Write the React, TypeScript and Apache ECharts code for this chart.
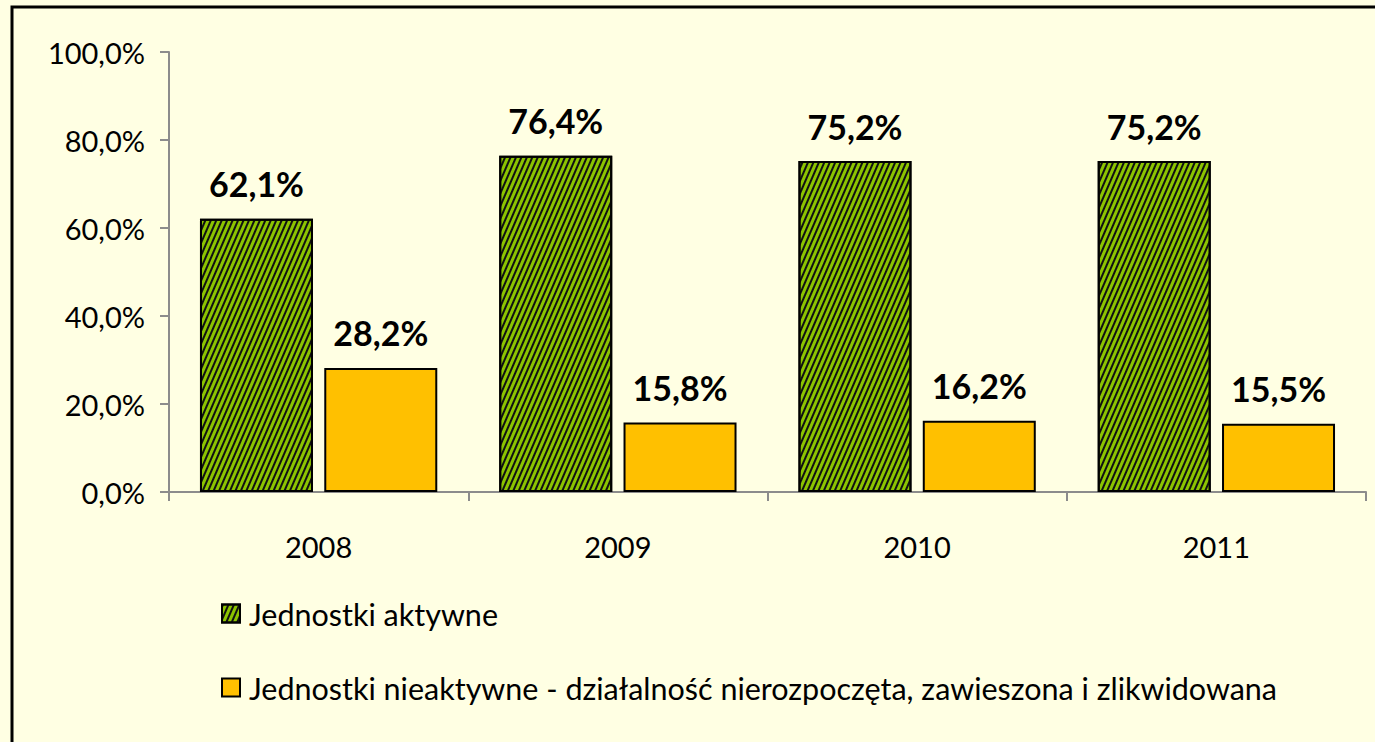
import React, { useEffect, useRef } from "react";
import * as echarts from "echarts";

const categories = ["2008", "2009", "2010", "2011"];
const activeValues = [62.1, 76.4, 75.2, 75.2];
const inactiveValues = [28.2, 15.8, 16.2, 15.5];
const seriesNames = [
  "Jednostki aktywne",
  "Jednostki nieaktywne - działalność nierozpoczęta, zawieszona i zlikwidowana",
];
const yTicks = [0, 20, 40, 60, 80, 100];

const fmt = (v: number) => v.toFixed(1).replace(".", ",") + "%";
const FONT = "Lato, 'Open Sans', sans-serif";

export default function App() {
  const ref = useRef<HTMLDivElement>(null);
  useEffect(() => {
    if (!ref.current) return;
    const chart = echarts.init(ref.current, null, { renderer: "svg" });
    const label = {
      show: true,
      position: "top" as const,
      distance: 18,
      fontSize: 34,
      fontWeight: "bold" as const,
      color: "#000",
      fontFamily: FONT,
      formatter: (p: any) => fmt(p.value),
    };
    chart.setOption({
      animation: false,
      backgroundColor: "#FFFFE3",
      textStyle: { fontFamily: FONT },
      graphic: [
        {
          type: "rect",
          shape: { x: 12, y: 7, width: 1500, height: 900 },
          style: { fill: "none", stroke: "#000", lineWidth: 3 },
          silent: true,
        },
      ],
      grid: { left: 169, right: 9, top: 52, bottom: 250, containLabel: false },
      xAxis: {
        type: "category",
        data: categories,
        axisLine: { lineStyle: { color: "#8C8C8C", width: 2 } },
        axisTick: { show: true, length: 9, lineStyle: { color: "#8C8C8C", width: 2 } },
        axisLabel: { color: "#000", fontSize: 29, margin: 40, fontFamily: FONT },
      },
      yAxis: {
        type: "value",
        min: 0,
        max: 100,
        interval: 20,
        splitLine: { show: false },
        axisLine: { show: true, lineStyle: { color: "#8C8C8C", width: 2 } },
        axisTick: { show: true, length: 9, lineStyle: { color: "#8C8C8C", width: 2 } },
        axisLabel: {
          color: "#000",
          fontSize: 29,
          margin: 24,
          fontFamily: FONT,
          formatter: (v: number) => (yTicks.includes(v) ? fmt(v) : ""),
        },
      },
      legend: {
        orient: "vertical",
        left: 216,
        top: 593,
        itemGap: 43,
        itemWidth: 18,
        itemHeight: 18,
        icon: "rect",
        textStyle: { fontSize: 30.5, color: "#000", fontFamily: FONT, padding: [0, 0, 0, 4] },
        data: seriesNames,
      },
      series: [
        {
          name: seriesNames[0],
          type: "bar",
          data: activeValues,
          barWidth: 113,
          barGap: "10%",
          itemStyle: {
            color: "#8CC400",
            borderColor: "#000",
            borderWidth: 2,
            decal: {
              symbol: "rect",
              color: "#111",
              dashArrayX: [1, 0],
              dashArrayY: [2, 2.5],
              rotation: -Math.PI * 0.37,
            },
          },
          label,
        },
        {
          name: seriesNames[1],
          type: "bar",
          data: inactiveValues,
          barWidth: 113,
          itemStyle: { color: "#FFC000", borderColor: "#000", borderWidth: 2 },
          label,
        },
      ],
    });
    return () => chart.dispose();
  }, []);
  return (
    <div
      ref={ref}
      style={{ position: "absolute", left: 0, top: 0, width: 1375, height: 742 }}
    />
  );
}
